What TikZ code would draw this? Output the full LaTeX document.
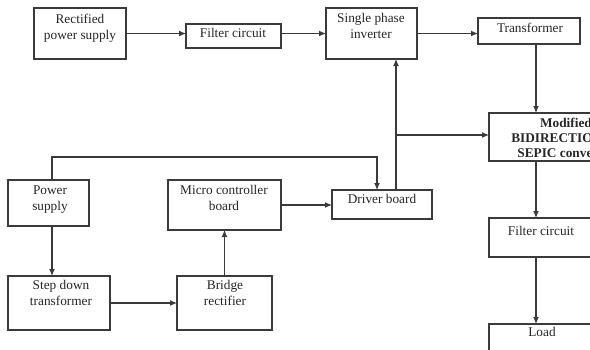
\documentclass[tikz,border=0pt]{standalone}
\usepackage{fontspec}
\setmainfont{Liberation Serif}
\usetikzlibrary{arrows.meta}
\definecolor{linec}{HTML}{3A3A3A}
\definecolor{txtc}{HTML}{262626}
\tikzset{
  box/.style={draw=linec, line width=1.2pt, inner sep=0pt, outer sep=0pt},
  lbl/.style={font=\fontsize{13.3}{15.5}\selectfont, text=txtc, align=center, anchor=north, inner sep=0pt},
  arr/.style={draw=linec, line width=1.2pt, -{Latex[length=7pt,width=6pt]}},
}
\newcommand\mybox[5]{\node[box, minimum width={(#4-#2)*1pt}, minimum height={(#5-#3)*1pt}] (#1) at ({(#2+#4)/2},{(#3+#5)/2}) {};}
\begin{document}
\begin{tikzpicture}[x=1pt,y=-1pt]
\path[use as bounding box] (0,0) rectangle (590,349);
\clip (0,0) rectangle (590,349);
\fill[white] (0,0) rectangle (590,349);
% boxes
\mybox{rect}{34}{8}{126}{59}
\mybox{filtA}{186}{24}{281}{48}
\mybox{inv}{326}{8}{417}{59}
\mybox{trans}{478}{18}{580}{44}
\mybox{mod}{489}{113}{643}{161}
\mybox{filtB}{489}{218}{643}{257}
\mybox{load}{489}{324}{643}{362}
\mybox{ps}{8}{180}{89}{226}
\mybox{micro}{168}{180}{281}{230}
\mybox{driver}{332}{190}{432}{219}
\mybox{step}{8}{276}{110}{330}
\mybox{bridge}{177}{276}{272}{330}
% labels
\node[lbl] (rect-t) at (80,12.7) {\strut Rectified\\power supply};
\node[lbl] (filtA-t) at (233,26.7) {\strut Filter circuit};
\node[lbl] (inv-t) at (371,11.7) {\strut Single phase\\inverter};
\node[lbl] (trans-t) at (530,21.7) {\strut Transformer};
\node[lbl,font=\fontsize{13.3}{15}\selectfont\bfseries] (mod-t) at (566,116.7) {\strut Modified\\BIDIRECTIONAL\\SEPIC converter};
\node[lbl] (filtB-t) at (541,224.7) {\strut Filter circuit};
\node[lbl] (load-t) at (542,325.7) {\strut Load};
\node[lbl] (ps-t) at (50,183.7) {\strut Power\\supply};
\node[lbl] (micro-t) at (224,183.7) {\strut Micro controller\\board};
\node[lbl] (driver-t) at (382,192.7) {\strut Driver board};
\node[lbl] (step-t) at (61,278.7) {\strut Step down\\transformer};
\node[lbl] (bridge-t) at (225,278.7) {\strut Bridge\\rectifier};
% helper coordinates
\coordinate (xr) at (536,0);
\coordinate (xd) at (396,0);
\coordinate (jn) at (396,135);
\coordinate (xp) at (52,157);
\coordinate (xq) at (377,157);
% connectors
\draw[arr] (rect.east) -- (rect.east -| filtA.west);
\draw[arr] (filtA.east |- inv.west) -- (inv.west);
\draw[arr] (inv.east) -- (inv.east -| trans.west);
\draw[arr] (trans.south -| xr) -- (mod.north -| xr);
\draw[arr] (driver.north -| xd) -- (inv.south -| xd);
\draw[arr] (jn) -- (jn -| mod.west);
\draw[arr] (ps.north -| xp) -- (xp) -- (xq) -- (xq |- driver.north);
\draw[arr] (micro.east) -- (micro.east -| driver.west);
\draw[arr] (ps.south -| xp) -- (step.north -| xp);
\draw[arr] (step.east) -- (step.east -| bridge.west);
\draw[arr] (bridge.north) -- (micro.south);
\draw[arr] (mod.south -| xr) -- (filtB.north -| xr);
\draw[arr] (filtB.south -| xr) -- (load.north -| xr);
\end{tikzpicture}
\end{document}
